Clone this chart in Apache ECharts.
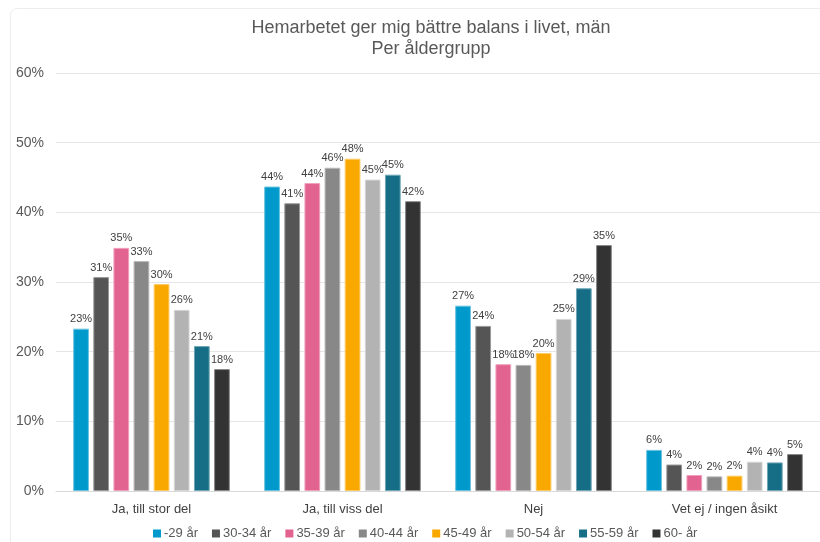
<!DOCTYPE html>
<html>
<head>
<meta charset="utf-8">
<script src="https://cdn.jsdelivr.net/npm/echarts@6/dist/echarts.min.js"></script>
<style>html,body{margin:0;padding:0;background:#fff}#c{width:820px;height:542px}</style>
</head>
<body>
<div id="c"></div>
<script>
var categories = ['Ja, till stor del', 'Ja, till viss del', 'Nej', 'Vet ej / ingen åsikt'];
var seriesNames = ['-29 år', '30-34 år', '35-39 år', '40-44 år', '45-49 år', '50-54 år', '55-59 år', '60- år'];
var colors = ['#0099CC', '#555555', '#E26390', '#888888', '#F9A800', '#B3B3B3', '#156E86', '#333333'];
var borders = ['#66C2E0', '#999999', '#F0A0BC', '#B8B8B8', '#FCCB66', '#D6D6D6', '#6FA6B6', '#888888'];
var s29 = [23.3, 43.7, 26.6, 5.9];
var s30 = [30.7, 41.3, 23.7, 3.8];
var s35 = [34.9, 44.2, 18.2, 2.3];
var s40 = [33.0, 46.4, 18.1, 2.1];
var s45 = [29.7, 47.7, 19.8, 2.2];
var s50 = [26.0, 44.7, 24.7, 4.2];
var s55 = [20.8, 45.4, 29.1, 4.1];
var s60 = [17.5, 41.6, 35.3, 5.3];
var values = [s29, s30, s35, s40, s45, s50, s55, s60];
var yTicks = [0, 10, 20, 30, 40, 50, 60];

var FONT = '"Liberation Sans", Arial, sans-serif';
var chart = echarts.init(document.getElementById('c'), null, {renderer: 'canvas'});
var series = seriesNames.map(function (n, i) {
  return {
    name: n,
    type: 'bar',
    data: values[i],
    barGap: '28%',
    barCategoryGap: '18%',
    itemStyle: {color: colors[i], borderColor: borders[i], borderWidth: 1},
    label: {
      show: true, position: 'top', distance: 4,
      color: '#404040', fontSize: 11, fontFamily: FONT,
      formatter: function (p) { return Math.round(p.value) + '%'; }
    }
  };
});
chart.setOption({
  animation: false,
  textStyle: {fontFamily: FONT},
  title: {
    text: 'Hemarbetet ger mig bättre balans i livet, män\nPer åldergrupp',
    left: 426, top: 13, textAlign: 'center',
    textStyle: {fontSize: 18, fontWeight: 'normal', color: '#595959', lineHeight: 21, fontFamily: FONT}
  },
  graphic: [{
    type: 'rect', left: 8, top: 6, z: -1,
    shape: {width: 900, height: 600, r: 6},
    style: {fill: 'none', stroke: '#EDEDED', lineWidth: 1}
  }],
  legend: {
    data: seriesNames, top: 522, left: 148,
    itemWidth: 8, itemHeight: 8, itemGap: 14, icon: 'rect',
    itemStyle: {borderWidth: 0},
    textStyle: {fontSize: 13, color: '#595959', fontFamily: FONT, padding: [0, 0, 0, -2]}
  },
  grid: {left: 56, top: 73, width: 778, height: 418},
  xAxis: {
    type: 'category', data: categories,
    axisLine: {lineStyle: {color: '#D9D9D9'}},
    axisTick: {show: false},
    axisLabel: {color: '#404040', fontSize: 13, margin: 12, fontFamily: FONT}
  },
  yAxis: {
    type: 'value', min: 0, max: 60, interval: 10,
    axisLabel: {color: '#595959', fontSize: 14, margin: 12, fontFamily: FONT,
      formatter: function (v) { return yTicks.indexOf(v) >= 0 ? v + '%' : ''; }},
    splitLine: {lineStyle: {color: '#E6E6E6'}},
    axisLine: {show: false}, axisTick: {show: false}
  },
  series: series
});
</script>
</body>
</html>
